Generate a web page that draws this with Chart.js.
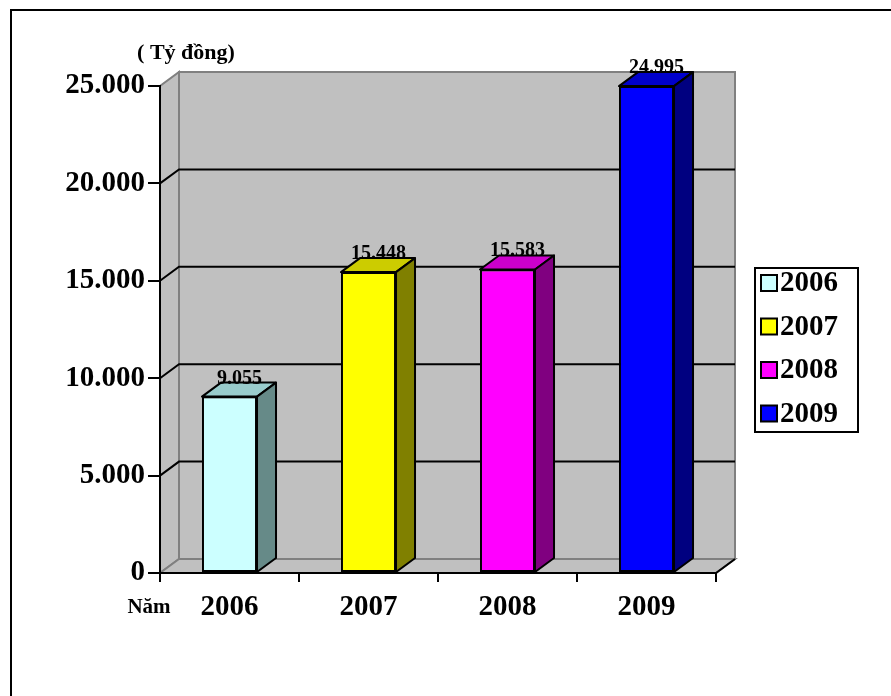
<!DOCTYPE html>
<html>
<head>
<meta charset="utf-8">
<script src="https://cdn.jsdelivr.net/npm/chart.js@4.4.0/dist/chart.umd.min.js"></script>
<style>
  html, body { margin: 0; padding: 0; background: #fff; }
  canvas { display: block; }
</style>
</head>
<body>
<canvas id="chart" width="891" height="696"></canvas>
<script>
// Dữ liệu (tỷ đồng)
const years = ['2006', '2007', '2008', '2009'];
const values = [9055, 15448, 15583, 24995];
const yMax = 25000;
const yStep = 5000;

// màu mặt trước / mặt trên / mặt bên của cột
const frontColors = ['#CCFFFF', '#FFFF00', '#FF00FF', '#0000FF'];
const topColors = ['#99CCCC', '#CCCC00', '#CC00CC', '#0000CC'];
const sideColors = ['#668A88', '#808000', '#800080', '#000080'];

const FONT = "'Times New Roman', 'Liberation Serif', serif";
const DX = 19, DY = -14; // độ sâu 3D

function fmt(v) {
  return String(v).replace(/\B(?=(\d{3})+(?!\d))/g, '.');
}

// Vẽ khung, tường và sàn 3D trước các trục
const wallsPlugin = {
  id: 'walls',
  beforeDraw(chart) {
    const ctx = chart.ctx;
    const { left: L, right: R, top: T, bottom: B } = chart.chartArea;
    const yScale = chart.scales.y;

    ctx.save();
    ctx.fillStyle = '#fff';
    ctx.fillRect(0, 0, chart.width, chart.height);
    ctx.strokeStyle = '#000';
    ctx.lineWidth = 2;
    ctx.strokeRect(11, 10, 1000, 1000);

    ctx.fillStyle = '#C0C0C0';
    ctx.strokeStyle = '#808080';
    ctx.lineWidth = 2;
    // tường sau
    ctx.fillRect(L + DX, T + DY, R - L, B - T);
    ctx.strokeRect(L + DX, T + DY, R - L, B - T);
    // tường trái
    ctx.beginPath();
    ctx.moveTo(L, B); ctx.lineTo(L, T); ctx.lineTo(L + DX, T + DY); ctx.lineTo(L + DX, B + DY);
    ctx.closePath(); ctx.fill(); ctx.stroke();
    // sàn
    ctx.beginPath();
    ctx.moveTo(L, B); ctx.lineTo(R, B); ctx.lineTo(R + DX, B + DY); ctx.lineTo(L + DX, B + DY);
    ctx.closePath(); ctx.fill(); ctx.stroke();
    ctx.strokeStyle = '#000';
    ctx.beginPath();
    ctx.moveTo(R, B); ctx.lineTo(R + DX, B + DY);
    ctx.stroke();

    // lưới ngang
    ctx.strokeStyle = '#000';
    for (let v = yStep; v < yMax; v += yStep) {
      const y = yScale.getPixelForValue(v);
      ctx.beginPath();
      ctx.moveTo(L, y); ctx.lineTo(L + DX, y + DY); ctx.lineTo(R + DX, y + DY);
      ctx.stroke();
    }
    ctx.restore();
  }
};

// Mặt trên, mặt bên và nhãn giá trị của cột
const bars3dPlugin = {
  id: 'bars3d',
  afterDatasetsDraw(chart) {
    const ctx = chart.ctx;
    const meta = chart.getDatasetMeta(0);
    ctx.save();
    ctx.strokeStyle = '#000';
    ctx.lineWidth = 2;
    ctx.lineJoin = 'round';
    meta.data.forEach((bar, i) => {
      const { x, y, base, width } = bar.getProps(['x', 'y', 'base', 'width'], true);
      const l = x - width / 2, r = x + width / 2;
      ctx.fillStyle = topColors[i];
      ctx.beginPath();
      ctx.moveTo(l, y); ctx.lineTo(r, y); ctx.lineTo(r + DX, y + DY); ctx.lineTo(l + DX, y + DY);
      ctx.closePath(); ctx.fill(); ctx.stroke();
      ctx.fillStyle = sideColors[i];
      ctx.beginPath();
      ctx.moveTo(r, y); ctx.lineTo(r + DX, y + DY); ctx.lineTo(r + DX, base + DY); ctx.lineTo(r, base);
      ctx.closePath(); ctx.fill(); ctx.stroke();
    });
    ctx.fillStyle = '#000';
    ctx.font = 'bold 20px ' + FONT;
    ctx.textAlign = 'center';
    ctx.textBaseline = 'alphabetic';
    meta.data.forEach((bar, i) => {
      ctx.fillText(fmt(values[i]), bar.x + 10, bar.y + DY + 1);
    });
    ctx.restore();
  }
};

// Chú giải và tiêu đề trục
const legendPlugin = {
  id: 'boxLegend',
  afterDraw(chart) {
    const ctx = chart.ctx;
    ctx.save();
    ctx.fillStyle = '#000';
    ctx.textBaseline = 'middle';
    ctx.textAlign = 'center';
    ctx.font = 'bold 22px ' + FONT;
    ctx.fillText('( Tỷ đồng)', 186, 53);
    ctx.font = 'bold 21px ' + FONT;
    ctx.fillText('Năm', 149, 608);

    const bx = 755, by = 268, bw = 103, bh = 164;
    ctx.fillStyle = '#fff';
    ctx.fillRect(bx, by, bw, bh);
    ctx.strokeStyle = '#000';
    ctx.lineWidth = 2;
    ctx.strokeRect(bx, by, bw, bh);
    ctx.font = 'bold 29px ' + FONT;
    ctx.textAlign = 'left';
    years.forEach((yr, i) => {
      const cy = by + 15 + i * 43.5;
      ctx.fillStyle = frontColors[i];
      ctx.fillRect(761, cy - 8, 16, 16);
      ctx.strokeRect(761, cy - 8, 16, 16);
      ctx.fillStyle = '#000';
      ctx.fillText(yr, 780, cy + 1);
    });
    ctx.restore();
  }
};

new Chart(document.getElementById('chart'), {
  type: 'bar',
  data: {
    labels: years,
    datasets: [{
      data: values,
      backgroundColor: frontColors,
      borderColor: '#000',
      borderWidth: 2,
      borderSkipped: false,
      barPercentage: 1,
      categoryPercentage: 0.396
    }]
  },
  options: {
    responsive: false,
    animation: false,
    devicePixelRatio: 1,
    layout: { padding: { top: 86, right: 175, left: 0, bottom: 0 } },
    plugins: { legend: { display: false }, tooltip: { enabled: false } },
    scales: {
      y: {
        min: 0,
        max: yMax,
        afterFit(s) { s.width = 160; },
        ticks: {
          stepSize: yStep,
          color: '#000',
          padding: 3,
          font: { family: FONT, size: 29, weight: 'bold' },
          callback: v => fmt(v)
        },
        grid: { drawOnChartArea: false, drawTicks: true, tickLength: 12, color: '#000', lineWidth: 2 },
        border: { display: true, color: '#000', width: 2 }
      },
      x: {
        afterFit(s) { s.height = 123; },
        ticks: {
          color: '#000',
          padding: 8,
          font: { family: FONT, size: 29, weight: 'bold' }
        },
        grid: { offset: true, drawOnChartArea: false, drawTicks: true, tickLength: 9, color: '#000', lineWidth: 2 },
        border: { display: true, color: '#000', width: 2 }
      }
    }
  },
  plugins: [wallsPlugin, bars3dPlugin, legendPlugin]
});
</script>
</body>
</html>
